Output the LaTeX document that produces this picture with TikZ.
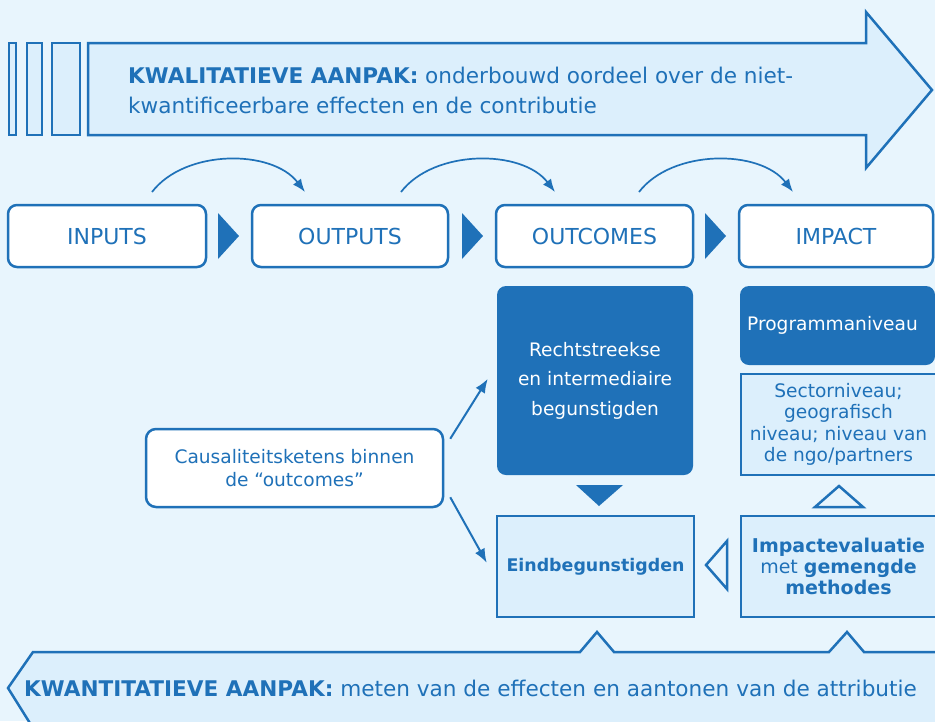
\documentclass[tikz,border=0pt]{standalone}
\usepackage{fontspec}
\setmainfont{DejaVu Sans}
\usetikzlibrary{arrows.meta}
\definecolor{bg}{RGB}{232,245,253}
\definecolor{lightfill}{RGB}{220,239,252}
\definecolor{mainblue}{RGB}{31,113,184}
\tikzset{
  stagebox/.style={draw=mainblue, line width=2.5pt, fill=white, rounded corners=9pt,
    minimum height=62pt, inner sep=0pt, text=mainblue, font=\fontsize{22}{26}\selectfont},
  darkbox/.style={fill=mainblue, rounded corners=9pt, text=white, inner sep=0pt, align=center},
  lightbox/.style={draw=mainblue, line width=2.5pt, fill=lightfill, inner sep=0pt, align=center, text=mainblue},
  whitebox/.style={draw=mainblue, line width=2.5pt, fill=white, rounded corners=10pt, inner sep=0pt, align=center, text=mainblue},
  arr/.style={draw=mainblue, line width=2pt, -{Latex[length=14pt,width=11pt]}},
  curvearr/.style={draw=mainblue, line width=1.7pt, -{Latex[length=13pt,width=10pt]}},
  bigarrow/.style={draw=mainblue, line width=2.5pt, fill=lightfill, line join=miter},
  otri/.style={draw=mainblue, line width=2.5pt, line join=miter},
  bodytext/.style={font=\fontsize{18.6}{21.5}\selectfont},
  bandtext/.style={text=mainblue, inner sep=0pt, align=left, font=\fontsize{21.6}{30}\selectfont}
}
\begin{document}
\begin{tikzpicture}[x=1pt,y=-1pt]
\useasboundingbox (0,0) rectangle (935,721);
\clip (0,0) rectangle (935,721);
\fill[bg] (0,0) rectangle (935,721);

% top arrow (qualitative)
\draw[bigarrow] (9,43) rectangle (16,135);
\draw[bigarrow] (27,43) rectangle (42,135);
\draw[bigarrow] (52,43) rectangle (80,135);
\draw[bigarrow] (88,43) -- (866,43) -- (866,12) -- (932,90) -- (866,168) -- (866,135) -- (88,135) -- cycle;
\node[bandtext, anchor=west] (qual) at (128,90.5)
  {\textbf{KWALITATIEVE AANPAK:} onderbouwd oordeel over de niet-\\kwantificeerbare effecten en de contributie};

% bottom arrow (quantitative)
\fill[lightfill] (945,652) -- (864,652) -- (847,632) -- (829,652) -- (614,652) -- (597,632) -- (580,652)
  -- (33,652) -- (8,688) -- (33,728) -- (945,728) -- cycle;
\draw[otri] (945,652) -- (864,652) -- (847,632) -- (829,652) -- (614,652) -- (597,632) -- (580,652)
  -- (33,652) -- (8,688) -- (33,728);
\node[bandtext, anchor=west] (quant) at (24,688)
  {\textbf{KWANTITATIEVE AANPAK:} meten van de effecten en aantonen van de attributie};

% stage boxes
\node[stagebox, minimum width=198pt] (inputs) at (107,236) {INPUTS};
\node[stagebox, minimum width=196pt] (outputs) at (350,236) {OUTPUTS};
\node[stagebox, minimum width=197pt] (outcomes) at (594.5,236) {OUTCOMES};
\node[stagebox, minimum width=194pt] (impact) at (836,236) {IMPACT};

% triangles between stage boxes
\fill[mainblue] (218,213) -- (239,236) -- (218,259) -- cycle;
\fill[mainblue] (462,213) -- (483,236) -- (462,259) -- cycle;
\fill[mainblue] (705,213) -- (726,236) -- (705,259) -- cycle;

% curved arrows
\coordinate (c1a) at (152,192); \coordinate (c1b) at (305,192);
\coordinate (c2a) at (401,192); \coordinate (c2b) at (555,192);
\coordinate (c3a) at (639,192); \coordinate (c3b) at (793,192);
\draw[curvearr] (c1a) .. controls (185,149) and (272,149) .. (c1b);
\draw[curvearr] (c2a) .. controls (434,149) and (522,149) .. (c2b);
\draw[curvearr] (c3a) .. controls (672,149) and (760,149) .. (c3b);

% middle boxes
\node[darkbox, minimum width=196pt, minimum height=189pt, font=\fontsize{18.6}{29.5}\selectfont]
  (rech) at (595,380.5) {Rechtstreekse\\en intermediaire\\begunstigden};
\node[darkbox, minimum width=195pt, minimum height=79pt, bodytext]
  (prog) at (837.5,325.5) {\hspace{-10pt}Programmaniveau};
\node[lightbox, minimum width=195pt, minimum height=101pt, bodytext]
  (sector) at (838.5,424.5) {Sectorniveau;\\geografisch\\niveau; niveau van\\de ngo/partners};
\node[lightbox, minimum width=197pt, minimum height=101pt, font=\fontsize{17.4}{21}\selectfont]
  (eind) at (595.5,566.5) {\textbf{Eindbegunstigden}};
\node[lightbox, minimum width=195pt, minimum height=101pt, font=\fontsize{19}{21}\selectfont]
  (impev) at (838.5,566.5) {\textbf{Impactevaluatie}\\met \textbf{gemengde}\\\textbf{methodes}};
\node[whitebox, minimum width=297pt, minimum height=78pt, font=\fontsize{18.6}{22.5}\selectfont]
  (causal) at (294.5,468) {Causaliteitsketens binnen\\de “outcomes”};

% small triangles
\fill[mainblue] (576,485) -- (623,485) -- (599,506) -- cycle;
\draw[otri] (815,507) -- (863,507) -- (839,486) -- cycle;
\draw[otri] (727,541) -- (727,589) -- (706,565) -- cycle;

% diagonal arrows
\draw[arr] ([xshift=6pt,yshift=-11pt]causal.north east) -- ([xshift=-9pt,yshift=-93pt]rech.north west);
\draw[arr] ([xshift=6pt,yshift=11pt]causal.south east) -- ([xshift=-9pt,yshift=-48pt]eind.north west);
\end{tikzpicture}
\end{document}
